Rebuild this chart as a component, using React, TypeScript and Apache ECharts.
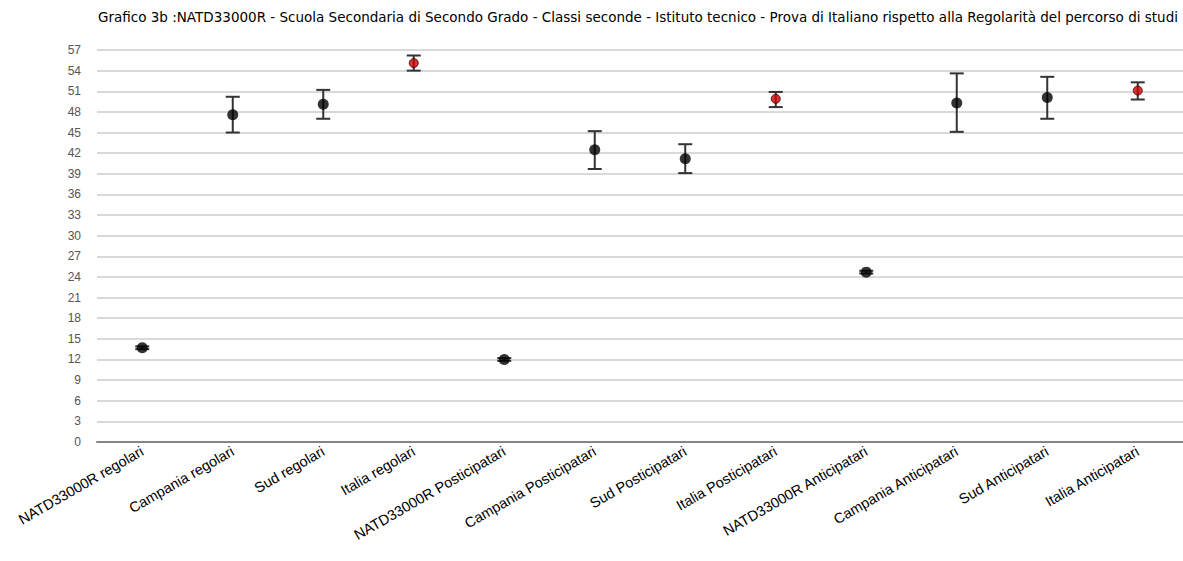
import React, { useEffect, useRef } from "react";
import * as echarts from "echarts";

const categories = [
  "NATD33000R regolari",
  "Campania regolari",
  "Sud regolari",
  "Italia regolari",
  "NATD33000R Posticipatari",
  "Campania Posticipatari",
  "Sud Posticipatari",
  "Italia Posticipatari",
  "NATD33000R Anticipatari",
  "Campania Anticipatari",
  "Sud Anticipatari",
  "Italia Anticipatari",
];
const means = [13.7, 47.6, 49.1, 55.1, 12.0, 42.5, 41.2, 49.9, 24.7, 49.3, 50.1, 51.1];
const lowerErr = [0.2, 2.6, 2.1, 1.1, 0.2, 2.8, 2.1, 1.2, 0.2, 4.2, 3.1, 1.3];
const upperErr = [0.2, 2.6, 2.1, 1.1, 0.2, 2.7, 2.1, 1.0, 0.2, 4.3, 3.0, 1.2];
const isItalia = [false, false, false, true, false, false, false, true, false, false, false, true];
const yTicks = { min: 0, max: 57, interval: 3 };
const title =
  "Grafico 3b :NATD33000R - Scuola Secondaria di Secondo Grado - Classi seconde - Istituto tecnico - Prova di Italiano rispetto alla Regolarità del percorso di studi";

export default function App() {
  const ref = useRef<HTMLDivElement>(null);
  useEffect(() => {
    if (!ref.current) return;
    const chart = echarts.init(ref.current, undefined, { renderer: "svg" });
    const errData = categories.map((_, i) => [i, means[i] - lowerErr[i], means[i] + upperErr[i]]);
    const pointData = means.map((v, i) => ({
      value: [i, v],
      itemStyle: isItalia[i]
        ? { color: "#d00000", borderColor: "#3a0000", borderWidth: 1 }
        : { color: "#000000" },
      symbolSize: isItalia[i] ? 9 : 11,
    }));
    chart.setOption({
      animation: false,
      backgroundColor: "#ffffff",
      title: {
        text: title,
        left: 633,
        textAlign: "center",
        top: 5,
        textStyle: { fontFamily: "DejaVu Sans", fontSize: 13.5, fontWeight: "normal", color: "#000" },
      },
      grid: { left: 97, right: 0, top: 50, bottom: 119, containLabel: false },
      xAxis: {
        type: "category",
        data: categories,
        boundaryGap: true,
        axisLine: { lineStyle: { color: "#858585", width: 2 } },
        axisTick: { show: false },
        axisLabel: {
          interval: 0,
          rotate: 30,
          margin: 8,
          fontFamily: "Liberation Sans",
          fontSize: 14.5,
          color: "#000",
        },
      },
      yAxis: {
        type: "value",
        min: yTicks.min,
        max: yTicks.max,
        interval: yTicks.interval,
        axisLine: { show: false },
        axisTick: { show: false },
        axisLabel: { margin: 16, fontFamily: "Liberation Sans", fontSize: 12, color: "#555" },
        splitLine: { lineStyle: { color: "#d9d9d9", width: 2 } },
      },
      series: [
        {
          type: "custom",
          data: errData,
          z: 1,
          renderItem: (params: any, api: any) => {
            const x = api.value(0);
            const lo = api.coord([x, api.value(1)]);
            const hi = api.coord([x, api.value(2)]);
            const half = 7;
            const style = { stroke: "#333333", lineWidth: 2 };
            return {
              type: "group",
              children: [
                { type: "line", shape: { x1: lo[0], y1: lo[1], x2: hi[0], y2: hi[1] }, style },
                { type: "line", shape: { x1: lo[0] - half, y1: lo[1], x2: lo[0] + half, y2: lo[1] }, style },
                { type: "line", shape: { x1: hi[0] - half, y1: hi[1], x2: hi[0] + half, y2: hi[1] }, style },
              ],
            };
          },
        },
        {
          type: "scatter",
          data: pointData,
          symbol: "circle",
          z: 2,
        },
      ],
    });
    return () => chart.dispose();
  }, []);
  return <div ref={ref} style={{ width: 1183, height: 561, position: "absolute", left: 0, top: 0 }} />;
}
